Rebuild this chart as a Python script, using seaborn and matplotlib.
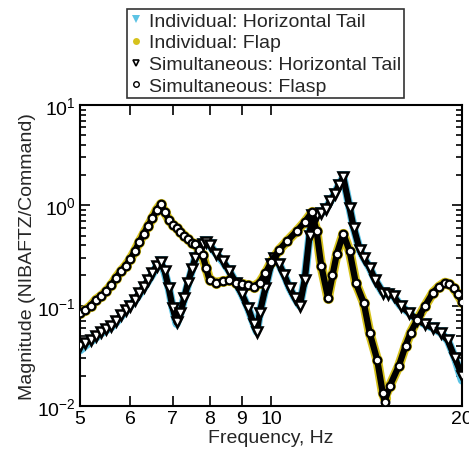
import matplotlib
matplotlib.use("Agg")
import matplotlib.pyplot as plt
from matplotlib.lines import Line2D
from matplotlib.ticker import FixedLocator, NullFormatter, LogLocator, NullLocator
import seaborn as sns
import pandas as pd

# ---------------- data ----------------
ht_freq = [5.0, 5.1, 5.2, 5.3, 5.4, 5.5, 5.6, 5.7, 5.8, 5.9, 6.0, 6.1, 6.2, 6.3, 6.4,
           6.5, 6.6, 6.7, 6.8, 6.9, 7.0, 7.1, 7.2, 7.3, 7.4, 7.5, 7.6, 7.7, 7.8, 7.9,
           8.0, 8.2, 8.4, 8.6, 8.8, 9.0, 9.2, 9.4, 9.5, 9.6, 9.8, 10.0, 10.1, 10.3,
           10.5, 10.7, 10.9, 11.1, 11.3, 11.5, 11.6, 11.8, 12.0, 12.2, 12.4, 12.6,
           12.8, 13.0, 13.3, 13.5, 13.8, 14.0, 14.3, 14.6, 15.0, 15.3, 15.6, 16.0,
           16.5, 17.0, 17.5, 18.0, 18.5, 19.0, 19.5, 20.0]
ind_ht_mag = [0.036, 0.040, 0.044, 0.048, 0.053, 0.057, 0.061, 0.068, 0.078, 0.088,
              0.100, 0.112, 0.130, 0.150, 0.175, 0.205, 0.245, 0.270, 0.215, 0.150,
              0.095, 0.066, 0.085, 0.120, 0.165, 0.225, 0.300, 0.360, 0.410, 0.430,
              0.400, 0.330, 0.275, 0.220, 0.170, 0.130, 0.095, 0.065, 0.055, 0.085,
              0.150, 0.260, 0.300, 0.260, 0.200, 0.150, 0.120, 0.100, 0.180, 0.500,
              0.800, 0.800, 0.840, 0.920, 1.100, 1.300, 1.600, 1.900, 0.950, 0.600,
              0.360, 0.300, 0.240, 0.180, 0.135, 0.130, 0.125, 0.100, 0.085, 0.072,
              0.065, 0.060, 0.054, 0.045, 0.030, 0.018]
sim_ht_mag = [0.040, 0.042, 0.046, 0.050, 0.055, 0.058, 0.062, 0.070, 0.080, 0.090,
              0.100, 0.115, 0.135, 0.155, 0.180, 0.210, 0.250, 0.275, 0.220, 0.150,
              0.095, 0.068, 0.085, 0.120, 0.170, 0.230, 0.300, 0.360, 0.410, 0.430,
              0.400, 0.330, 0.280, 0.220, 0.170, 0.130, 0.095, 0.065, 0.055, 0.085,
              0.150, 0.260, 0.300, 0.260, 0.200, 0.150, 0.120, 0.100, 0.180, 0.500,
              0.800, 0.800, 0.840, 0.920, 1.100, 1.300, 1.600, 1.900, 0.950, 0.600,
              0.360, 0.300, 0.240, 0.180, 0.135, 0.130, 0.125, 0.100, 0.085, 0.072,
              0.065, 0.060, 0.054, 0.045, 0.030, 0.020]

flap_freq = [5.0, 5.1, 5.2, 5.3, 5.4, 5.5, 5.6, 5.7, 5.8, 5.9, 6.0, 6.1, 6.2, 6.3,
             6.4, 6.5, 6.6, 6.7, 6.8, 6.9, 7.0, 7.1, 7.2, 7.3, 7.4, 7.5, 7.6, 7.7,
             7.8, 7.9, 8.0, 8.2, 8.4, 8.6, 8.8, 9.0, 9.2, 9.4, 9.6, 9.8, 10.0, 10.3,
             10.6, 11.0, 11.3, 11.6, 11.8, 12.0, 12.3, 12.5, 12.7, 13.0, 13.3, 13.6,
             14.0, 14.3, 14.7, 15.0, 15.1, 15.4, 15.9, 16.3, 16.6, 17.0, 17.5, 18.0,
             18.4, 18.8, 19.1, 19.4, 19.7, 20.0]
ind_flap_mag = [0.085, 0.090, 0.100, 0.115, 0.125, 0.140, 0.160, 0.190, 0.220, 0.250,
                0.290, 0.350, 0.430, 0.520, 0.620, 0.740, 0.900, 1.020, 0.860, 0.720,
                0.640, 0.600, 0.540, 0.500, 0.460, 0.420, 0.410, 0.360, 0.320, 0.240,
                0.180, 0.170, 0.175, 0.180, 0.170, 0.165, 0.160, 0.155, 0.170, 0.210,
                0.270, 0.360, 0.440, 0.560, 0.680, 0.850, 0.550, 0.250, 0.120, 0.200,
                0.330, 0.520, 0.350, 0.170, 0.107, 0.054, 0.029, 0.0135, 0.012, 0.016,
                0.025, 0.040, 0.054, 0.072, 0.100, 0.135, 0.155, 0.170, 0.165, 0.150,
                0.130, 0.110]
sim_flap_mag = [0.085, 0.090, 0.100, 0.115, 0.125, 0.140, 0.160, 0.190, 0.220, 0.250,
                0.290, 0.350, 0.430, 0.520, 0.620, 0.740, 0.900, 1.020, 0.860, 0.720,
                0.640, 0.600, 0.540, 0.500, 0.460, 0.420, 0.410, 0.360, 0.320, 0.240,
                0.180, 0.170, 0.175, 0.180, 0.170, 0.165, 0.160, 0.155, 0.170, 0.210,
                0.270, 0.360, 0.440, 0.560, 0.680, 0.850, 0.550, 0.250, 0.120, 0.200,
                0.330, 0.520, 0.350, 0.170, 0.107, 0.054, 0.029, 0.0135, 0.011, 0.016,
                0.025, 0.040, 0.054, 0.072, 0.100, 0.135, 0.155, 0.170, 0.165, 0.150,
                0.130, 0.110]

legend_labels = ["Individual: Horizontal Tail", "Individual: Flap",
                 "Simultaneous: Horizontal Tail", "Simultaneous: Flasp"]
x_ticks = [5, 6, 7, 8, 9, 10, 20]
x_tick_labels = ["5", "6", "7", "8", "9", "10", "20"]

# ---------------- styling ----------------
sns.set_theme(style="ticks")
plt.rcParams["font.family"] = ["Liberation Sans", "DejaVu Sans"]
plt.rcParams["mathtext.fontset"] = "custom"
plt.rcParams["mathtext.rm"] = "Liberation Sans"
plt.rcParams["mathtext.it"] = "Liberation Sans"

BLUE = "#5cc3e4"
YELLOW = "#d6c21c"
FS = 14

fig = plt.figure(figsize=(4.69, 4.56), dpi=100)
ax = fig.add_axes([80 / 469, 49 / 456, 382 / 469, 301 / 456])

df_ht = pd.DataFrame({"f": ht_freq, "ind": ind_ht_mag, "sim": sim_ht_mag})
df_fl = pd.DataFrame({"f": flap_freq, "ind": ind_flap_mag, "sim": sim_flap_mag})

# individual (coloured, underneath)
sns.lineplot(data=df_ht, x="f", y="ind", ax=ax, color=BLUE, lw=6, marker="v",
             markersize=8, markeredgewidth=0, markerfacecolor=BLUE, zorder=2,
             sort=False)
sns.lineplot(data=df_fl, x="f", y="ind", ax=ax, color=YELLOW, lw=7, marker="o",
             markersize=8, markeredgewidth=0, markerfacecolor=YELLOW, zorder=2,
             sort=False)
# simultaneous (black, on top)
sns.lineplot(data=df_ht, x="f", y="sim", ax=ax, color="black", lw=4.5, marker="v",
             markersize=6.5, markeredgewidth=1.8, markeredgecolor="black",
             markerfacecolor="white", zorder=3, sort=False)
sns.lineplot(data=df_fl, x="f", y="sim", ax=ax, color="black", lw=4.5, marker="o",
             markersize=5.5, markeredgewidth=1.6, markeredgecolor="black",
             markerfacecolor="white", zorder=3, sort=False)

ax.set_xscale("log")
ax.set_yscale("log")
ax.set_xlim(5, 20)
ax.set_ylim(0.01, 10)

ax.xaxis.set_major_locator(FixedLocator(x_ticks))
ax.set_xticklabels(x_tick_labels)
ax.xaxis.set_minor_locator(NullLocator())
ax.yaxis.set_major_locator(LogLocator(base=10, numticks=10))
ax.yaxis.set_minor_locator(LogLocator(base=10, subs=range(2, 10), numticks=20))
ax.yaxis.set_minor_formatter(NullFormatter())

ax.tick_params(which="both", direction="in", top=True, right=True,
               labelsize=FS, colors="black", width=1.2, pad=3)
ax.tick_params(which="major", length=7)
ax.tick_params(which="minor", length=4)
for s in ax.spines.values():
    s.set_linewidth(1.5)
    s.set_color("black")

ax.set_xlabel("Frequency, Hz", fontsize=FS, labelpad=1)
ax.set_ylabel("Magnitude (NIBAFTZ/Command)", fontsize=FS, labelpad=1)

handles = [
    Line2D([], [], ls="none", marker="v", color=BLUE, markersize=6, markeredgewidth=0),
    Line2D([], [], ls="none", marker="o", color=YELLOW, markersize=5, markeredgewidth=0),
    Line2D([], [], ls="none", marker="v", markerfacecolor="white", markeredgecolor="black",
           markersize=4.5, markeredgewidth=1.2),
    Line2D([], [], ls="none", marker="o", markerfacecolor="white", markeredgecolor="black",
           markersize=4, markeredgewidth=1.0),
]
leg = fig.legend(handles, legend_labels, loc="upper left",
                 bbox_to_anchor=(127 / 469, 1 - 10 / 456), bbox_transform=fig.transFigure,
                 fontsize=FS, frameon=True, fancybox=False, borderpad=0.15,
                 handlelength=0.6, handletextpad=0.4, labelspacing=0.22,
                 borderaxespad=0)
leg.get_frame().set_edgecolor("black")
leg.get_frame().set_linewidth(1.2)

fig.savefig("out.png", dpi=100)
